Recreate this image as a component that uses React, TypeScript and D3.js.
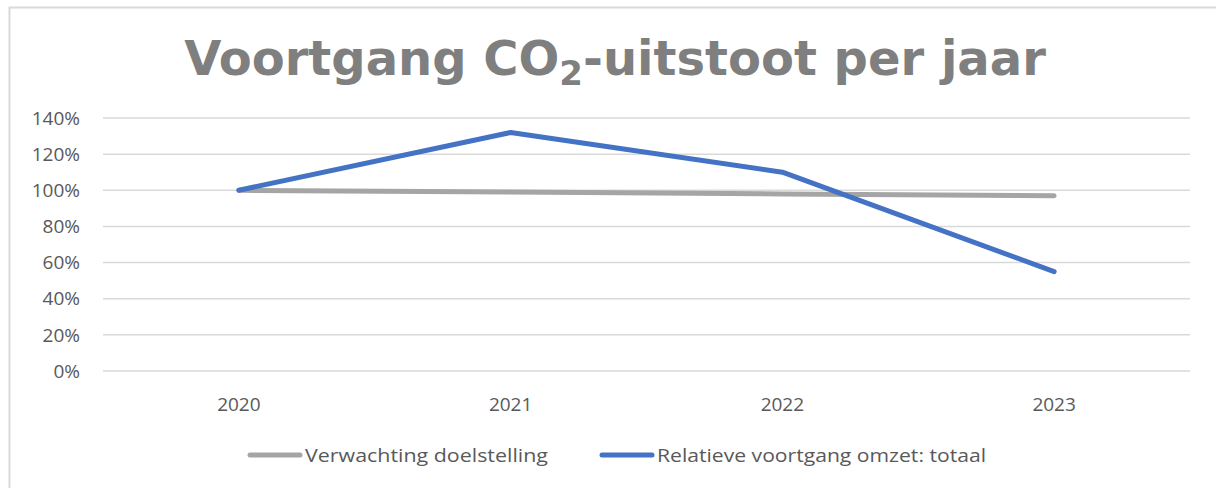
import { useEffect, useRef } from "react";
import * as d3 from "d3";

const years = ["2020", "2021", "2022", "2023"];
const target = [100, 99, 98, 97];
const progress = [100, 132, 110, 55];
const yTicks = [0, 20, 40, 60, 80, 100, 120, 140];
const seriesNames = ["Verwachting doelstelling", "Relatieve voortgang omzet: totaal"];
const seriesColors = ["#a5a5a5", "#4472c4"];

export default function App() {
    const svgRef = useRef<SVGSVGElement | null>(null);

    useEffect(() => {
        if (!svgRef.current) return;
        const svg = d3.select(svgRef.current);
        svg.selectAll("*").remove();

        const width = 1216;
        const height = 488;
        const margin = { top: 118, right: 26, bottom: 117, left: 103 };
        const font = "'Open Sans', sans-serif";

        // chart frame (right and bottom edges run off the page)
        svg.append("rect")
            .attr("x", 9.5).attr("y", 7.5)
            .attr("width", width + 20).attr("height", height + 20)
            .attr("fill", "#fff")
            .attr("stroke", "#d9d9d9")
            .attr("stroke-width", 2);

        // title
        const title = svg.append("text")
            .attr("x", 615).attr("y", 75)
            .attr("text-anchor", "middle")
            .attr("font-family", "'DejaVu Sans', sans-serif")
            .attr("font-weight", "bold")
            .attr("font-size", 48)
            .attr("fill", "#7f7f7f");
        title.append("tspan").text("Voortgang CO");
        title.append("tspan").attr("font-size", 34).attr("dy", 10).text("2");
        title.append("tspan").attr("dy", -10).text("-uitstoot per jaar");

        const x = d3.scaleBand<string>()
            .domain(years)
            .range([margin.left, width - margin.right]);

        const y = d3.scaleLinear()
            .domain([0, 140])
            .range([height - margin.bottom, margin.top]);

        svg.append("g")
            .selectAll("line")
            .data(yTicks)
            .join("line")
            .attr("x1", margin.left)
            .attr("x2", width - margin.right)
            .attr("y1", (d) => y(d))
            .attr("y2", (d) => y(d))
            .attr("stroke", "#d9d9d9")
            .attr("stroke-width", 1.5);

        svg.append("g")
            .selectAll("text")
            .data(yTicks)
            .join("text")
            .attr("x", 80)
            .attr("y", (d) => y(d))
            .attr("dy", "0.35em")
            .attr("text-anchor", "end")
            .attr("font-family", font)
            .attr("font-size", 19)
            .attr("fill", "#595959")
            .text((d) => `${d}%`);

        svg.append("g")
            .selectAll("text")
            .data(years)
            .join("text")
            .attr("x", (d) => (x(d) ?? 0) + x.bandwidth() / 2)
            .attr("y", 404)
            .attr("dy", "0.35em")
            .attr("text-anchor", "middle")
            .attr("font-family", font)
            .attr("font-size", 19)
            .attr("fill", "#595959")
            .text((d) => d);

        const line = d3.line<number>()
            .x((_, i) => (x(years[i]) ?? 0) + x.bandwidth() / 2)
            .y((d) => y(d));

        [target, progress].forEach((s, i) => {
            svg.append("path")
                .datum(s)
                .attr("fill", "none")
                .attr("stroke", seriesColors[i])
                .attr("stroke-width", 5)
                .attr("stroke-linecap", "round")
                .attr("stroke-linejoin", "round")
                .attr("d", line);
        });

        // legend
        const legendX = [250, 602];
        const legendW = [243, 329];
        seriesNames.forEach((name, i) => {
            const g = svg.append("g").attr("transform", `translate(${legendX[i]},455)`);
            g.append("line")
                .attr("x1", 0).attr("x2", 50)
                .attr("stroke", seriesColors[i])
                .attr("stroke-width", 5)
                .attr("stroke-linecap", "round");
            g.append("text")
                .attr("x", 55)
                .attr("dy", "0.35em")
                .attr("font-family", font)
                .attr("font-size", 19)
                .attr("fill", "#595959")
                .attr("textLength", legendW[i])
                .attr("lengthAdjust", "spacingAndGlyphs")
                .text(name);
        });
    }, []);

    return (
        <svg ref={svgRef} width={1216} height={488}
            style={{ position: "absolute", left: 0, top: 0 }}></svg>
    );
}
